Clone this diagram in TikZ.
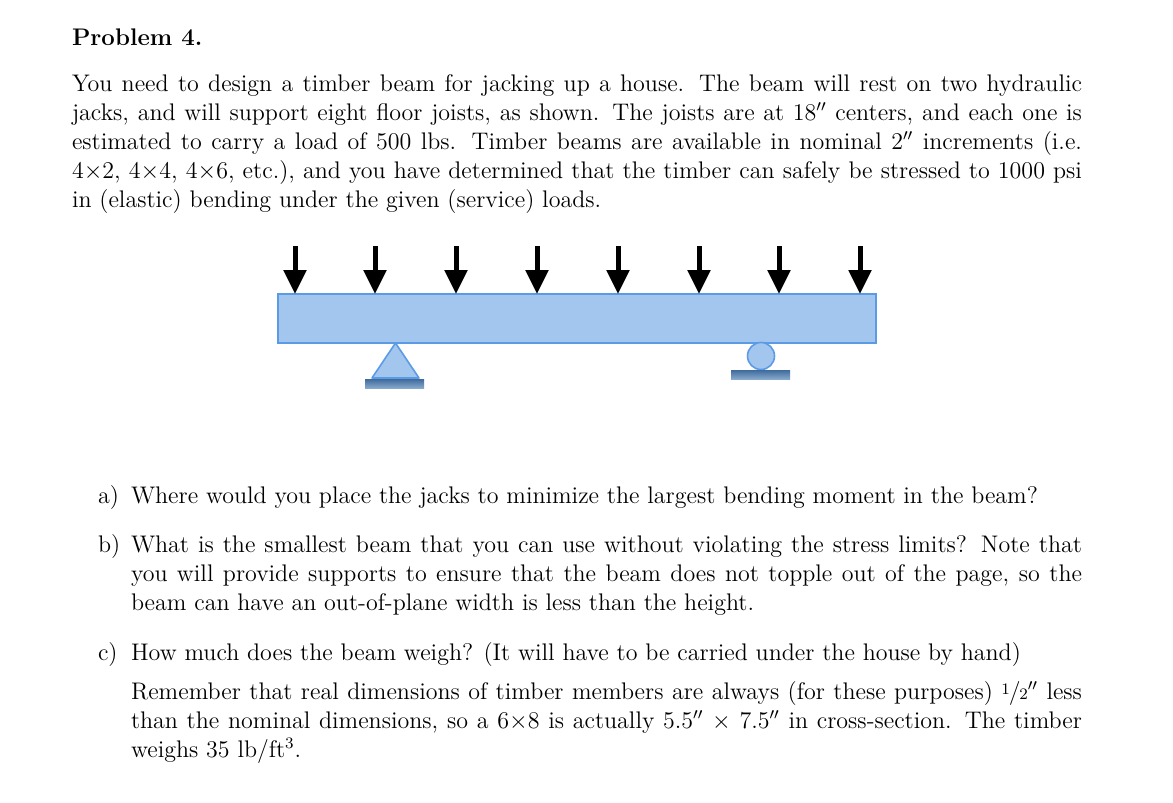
\documentclass[tikz,border=0pt]{standalone}
\usetikzlibrary{arrows.meta}
\newcommand{\hf}{\raisebox{.45ex}{\fontsize{8}{8}\selectfont 1}\kern-.05em/\kern-.05em{\fontsize{8}{8}\selectfont 2}$''$}
\tikzset{
  x=0.5pt,y=-0.5pt,
  textline/.style={anchor=base west,inner sep=0pt,outer sep=0pt,font=\fontsize{12}{14.5}\selectfont},
  load/.style={line width=2.5pt,-{Triangle[length=12pt,width=11pt]},black},
  member/.style={draw=beamline,fill=beamfill,line width=0.8pt,inner sep=0pt,outer sep=0pt},
  ground/.style={rectangle,inner sep=0pt,outer sep=0pt,minimum width=29.5pt,minimum height=4.5pt,top color=grounddark,bottom color=groundlight}
}
\definecolor{beamline}{HTML}{5B9BE6}
\definecolor{beamfill}{HTML}{A3C6EE}
\definecolor{grounddark}{HTML}{3F6A9C}
\definecolor{groundlight}{HTML}{86A9CC}
\newcommand{\fl}[4]{\node[textline] (#1) at (72,#2) {\hbox to 505pt{#3}};}
\begin{document}
\begin{tikzpicture}
\useasboundingbox (0,0) rectangle (1173,803);
\node[textline] (title) at (72,46) {\textbf{Problem 4.}};
\fl{p1}{91}{You need to design a timber beam for jacking up a house.  The beam will rest on two hydraulic}{}
\fl{p2}{120}{jacks, and will support eight floor joists, as shown.  The joists are at 18$''$ centers, and each one is}{}
\fl{p3}{149}{estimated to carry a load of 500 lbs.  Timber beams are available in nominal 2$''$ increments (i.e.}{}
\fl{p4}{178}{4$\times$2, 4$\times$4, 4$\times$6, etc.), and you have determined that the timber can safely be stressed to 1000 psi}{}
\node[textline] (p5) at (72,207) {in (elastic) bending under the given (service) loads.};
%
\node[member,minimum width=299pt,minimum height=24.5pt] (beam) at (577,318.5) {};
\foreach \n/\x in {1/295,2/375,3/456,4/537,5/618,6/699,7/779,8/860}{
  \coordinate (a\n) at (\x,246);
  \draw[load] (a\n) -- (a\n |- beam.north);
}
\coordinate (apex) at (395.5,343);
\coordinate (tl) at (372,378);
\coordinate (tr) at (419,378);
\draw[member,line join=round] (apex) -- (tr) -- (tl) -- cycle;
\node[ground] (g1) at (394.5,383.5) {};
\node[member,circle,minimum size=13.5pt] (roller) at (761,356) {};
\node[ground] (g2) at (760.5,374.5) {};
%
\node[textline] (la) at (98,503) {a)};
\node[textline] (ta) at (131,503) {Where would you place the jacks to minimize the largest bending moment in the beam?};
\node[textline] (lb) at (98,552) {b)};
\node[textline] (tb1) at (131,552) {\hbox to 475.5pt{What is the smallest beam that you can use without violating the stress limits?  Note that}};
\node[textline] (tb2) at (131,581) {\hbox to 475.5pt{you will provide supports to ensure that the beam does not topple out of the page, so the}};
\node[textline] (tb3) at (131,610) {beam can have an out-of-plane width is less than the height.};
\node[textline] (lc) at (98,660) {c)};
\node[textline] (tc1) at (131,660) {How much does the beam weigh? (It will have to be carried under the house by hand)};
\node[textline] (tc2) at (131,699) {\hbox to 475.5pt{Remember that real dimensions of timber members are always (for these purposes) \hf{} less}};
\node[textline] (tc3) at (131,728) {\hbox to 475.5pt{than the nominal dimensions, so a 6$\times$8 is actually 5.5$''$ $\times$ 7.5$''$ in cross-section.  The timber}};
\node[textline] (tc4) at (131,757) {weighs 35 lb/ft$^{3}$.};
\end{tikzpicture}
\end{document}
